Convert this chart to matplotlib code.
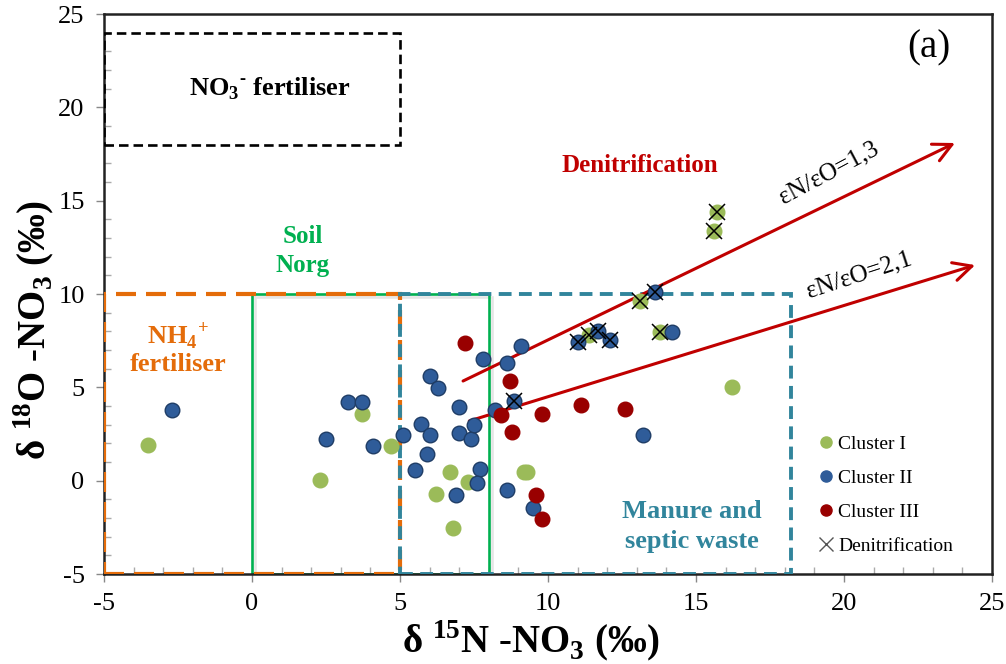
import matplotlib
matplotlib.use('Agg')
import matplotlib.pyplot as plt
import matplotlib.patches as mpatches
import matplotlib.patheffects as pe
from matplotlib.lines import Line2D
from matplotlib.ticker import MultipleLocator

plt.rcParams['font.family'] = ['Liberation Serif', 'DejaVu Serif']
plt.rcParams['mathtext.fontset'] = 'custom'
plt.rcParams['mathtext.rm'] = 'Liberation Serif'
plt.rcParams['mathtext.bf'] = 'Liberation Serif:bold'
plt.rcParams['axes.unicode_minus'] = False

# Cluster I (green)
c1_x = [-3.5, 2.3, 3.7, 4.7, 6.7, 7.3, 6.2, 6.8, 9.2, 9.3, 16.2, 11.4, 13.8, 13.1, 15.6, 15.7]
c1_y = [1.9, 0.05, 3.55, 1.85, 0.45, -0.05, -0.7, -2.55, 0.45, 0.45, 5.0, 7.8, 7.95, 9.65, 13.4, 14.4]

# Cluster II (blue)
c2_x = [-2.7, 3.25, 3.7, 2.5, 4.1, 5.1, 5.7, 6.0, 6.3, 7.0, 6.0, 7.0, 7.4, 7.5, 5.9, 5.5,
        7.7, 7.6, 6.9, 7.8, 8.6, 9.1, 8.2, 8.6, 9.5, 13.2, 14.2, 8.85, 11.0, 11.7, 12.1, 13.6]
c2_y = [3.8, 4.2, 4.2, 2.25, 1.85, 2.45, 3.05, 5.6, 4.95, 3.95, 2.45, 2.55, 2.25, 3.0, 1.45, 0.55,
        0.65, -0.1, -0.75, 6.5, 6.3, 7.2, 3.8, -0.5, -1.45, 2.45, 7.95, 4.25, 7.45, 8.0, 7.55, 10.1]

# Cluster III (dark red)
c3_x = [7.2, 8.7, 8.4, 9.8, 11.1, 12.6, 8.8, 9.6, 9.8]
c3_y = [7.35, 5.35, 3.5, 3.55, 4.05, 3.85, 2.6, -0.75, -2.05]

# samples flagged as denitrification
den_x = [11.4, 13.8, 13.1, 15.6, 15.7, 8.85, 11.0, 11.7, 12.1, 13.6]
den_y = [7.8, 7.95, 9.65, 13.4, 14.4, 4.25, 7.45, 8.0, 7.55, 10.1]

# denitrification trend arrows (start, end)
arrow1 = [(7.13, 5.34), (23.75, 18.09)]
arrow2 = [(7.34, 3.2), (24.43, 11.55)]

green = '#9BBB59'
blue = '#2F5C99'
red = '#990000'
orange = '#E46C0A'
teal = '#31859C'
soilgreen = '#00B050'
arrowred = '#C00000'

fig = plt.figure(figsize=(10.06, 6.64), dpi=100)
ax = fig.add_axes([0.1034, 0.1355, 0.8827, 0.8434])
ax.set_xlim(-5, 25)
ax.set_ylim(-5, 25)

# source boxes
soil = mpatches.Rectangle((0, -5), 8, 15, fill=False, ec=soilgreen, lw=1.9, zorder=2,
                          path_effects=[pe.SimpleLineShadow(offset=(2, -2), shadow_color='gray', alpha=0.2),
                                        pe.Normal()])
ax.add_patch(soil)
nh4 = mpatches.Rectangle((-5, -5), 10, 15, fill=False, ec=orange, lw=3,
                         linestyle=(0, (4.8, 2.4)), zorder=3)
ax.add_patch(nh4)
manure = mpatches.Rectangle((5, -5), 13.2, 15, fill=False, ec=teal, lw=2.8,
                            linestyle=(0, (3.3, 1.9)), zorder=3)
ax.add_patch(manure)
no3 = mpatches.Rectangle((-5, 18), 10, 6, fill=False, ec='black', lw=1.9,
                         linestyle=(0, (3.6, 1.9)), zorder=3)
ax.add_patch(no3)

# arrows
for a in (arrow1, arrow2):
    ax.annotate('', xy=a[1], xytext=a[0],
                arrowprops=dict(arrowstyle='->,head_length=0.6,head_width=0.3',
                                color=arrowred, lw=2.2, shrinkA=0, shrinkB=0,
                                mutation_scale=22),
                zorder=4)

# points
ax.plot(c1_x, c1_y, 'o', color=green, mec=green, ms=10.5, ls='none', zorder=5)
ax.plot(c2_x, c2_y, 'o', color=blue, mec='#1F3D66', mew=1, ms=10.5, ls='none', zorder=5)
ax.plot(c3_x, c3_y, 'o', color=red, mec=red, ms=10.5, ls='none', zorder=5)
ax.plot(den_x, den_y, 'x', color='black', ms=12, mew=1.1, ls='none', zorder=6)

# annotations
ax.text(22.85, 23.2, '(a)', fontsize=28, ha='center', va='center')
ax.text(0.6, 21.0, 'NO$_\\mathbf{3}$$^{\\mathbf{\u2010}}$ fertiliser', fontsize=19, fontweight='bold',
        ha='center', va='center')
ax.text(13.1, 16.9, 'Denitrification', fontsize=18, fontweight='bold', color=arrowred,
        ha='center', va='center')
ax.text(19.5, 16.5, 'εN/εO=1,3', fontsize=18, rotation=28, ha='center', va='center',
        rotation_mode='anchor')
ax.text(20.5, 11.0, 'εN/εO=2,1', fontsize=18, rotation=18, ha='center', va='center',
        rotation_mode='anchor')
ax.text(1.72, 12.3, 'Soil\nNorg', fontsize=18, fontweight='bold', color=soilgreen,
        ha='center', va='center', linespacing=1.35)
ax.text(-2.5, 7.1, r'NH$_\mathbf{4}$$^\mathbf{+}$' + '\nfertiliser', fontsize=19, fontweight='bold',
        color=orange, ha='center', va='center', linespacing=1.1)
ax.text(14.85, -2.45, 'Manure and\nseptic waste', fontsize=19, fontweight='bold', color=teal,
        ha='center', va='center', linespacing=1.4)

# axes styling
ax.xaxis.set_major_locator(MultipleLocator(5))
ax.yaxis.set_major_locator(MultipleLocator(5))
ax.xaxis.set_minor_locator(MultipleLocator(1))
ax.yaxis.set_minor_locator(MultipleLocator(1))
ax.tick_params(which='major', direction='out', length=6, width=1, color='#888888',
               labelsize=19, pad=8)
ax.tick_params(which='minor', direction='in', length=5, width=1, color='#aaaaaa')
for s in ax.spines.values():
    s.set_color('#222222')
    s.set_linewidth(1.8)

ax.set_xlabel(r'δ $^{\mathbf{15}}$N -NO$_\mathbf{3}$ (‰)', fontsize=28, fontweight='bold')
ax.set_ylabel(r'δ $^{\mathbf{18}}$O -NO$_\mathbf{3}$ (‰)', fontsize=28, fontweight='bold')
ax.xaxis.set_label_coords(0.481, -0.08)
ax.yaxis.set_label_coords(-0.053, 0.436)

handles = [
    Line2D([], [], marker='o', color=green, ls='none', ms=8, label='Cluster I'),
    Line2D([], [], marker='o', color=blue, ls='none', ms=8, label='Cluster II'),
    Line2D([], [], marker='o', color=red, ls='none', ms=8, label='Cluster III'),
    Line2D([], [], marker='x', color='#555555', ls='none', ms=10, mew=1, label='Denitrification'),
]
ax.legend(handles=handles, loc='upper left', bbox_to_anchor=(0.807, 0.248), frameon=False,
          fontsize=14, handlelength=0.6, handletextpad=0.3, labelspacing=0.85,
          borderpad=0, borderaxespad=0)

fig.savefig('out.png', dpi=100)
